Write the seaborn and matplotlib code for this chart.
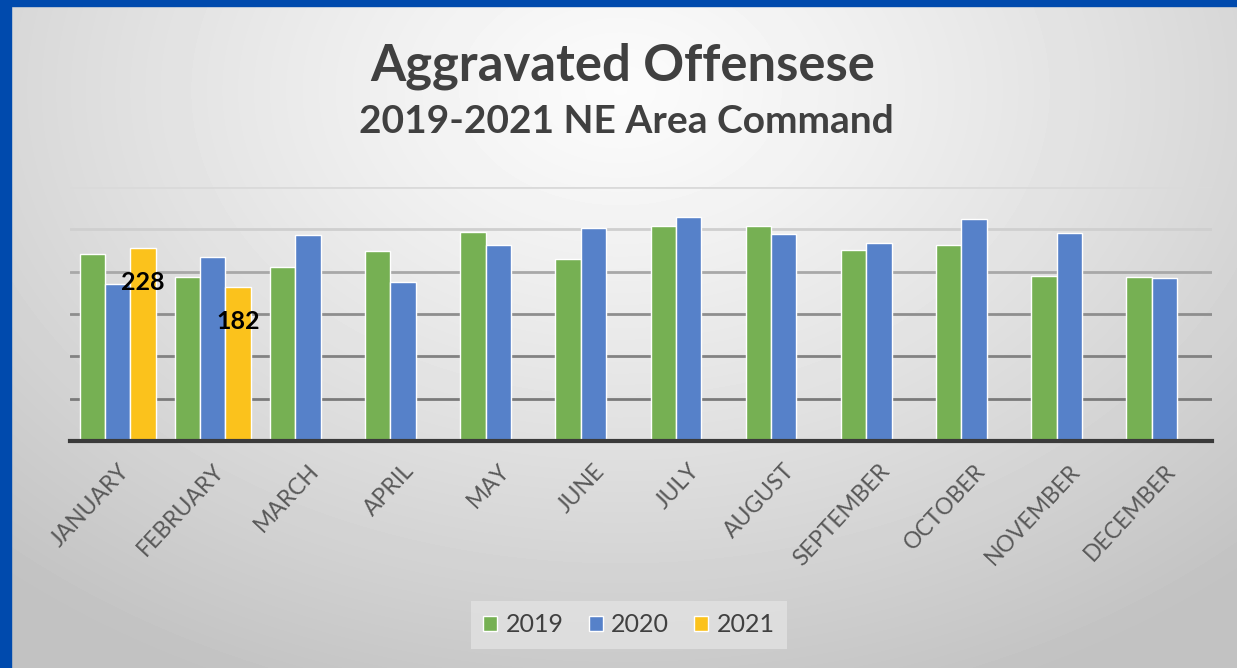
import numpy as np
import pandas as pd
import seaborn as sns
import matplotlib.pyplot as plt
from matplotlib.patches import Rectangle

# values
months = ['JANUARY', 'FEBRUARY', 'MARCH', 'APRIL', 'MAY', 'JUNE', 'JULY',
          'AUGUST', 'SEPTEMBER', 'OCTOBER', 'NOVEMBER', 'DECEMBER']
counts_2019 = [221, 194, 205, 224, 247, 215, 254, 254, 225, 232, 195, 194]
counts_2020 = [185, 217, 243, 188, 231, 251, 265, 244, 234, 262, 246, 193]
counts_2021 = [228, 182]
years = ['2019', '2020', '2021']
colors = ['#76b053', '#5681c9', '#fbc21c']

rows = []
for yr, vals in zip(years, [counts_2019, counts_2020, counts_2021]):
    for m, v in zip(months, vals):
        rows.append({'month': m, 'year': yr, 'count': v})
df = pd.DataFrame(rows)

sns.set_theme(style='white')
plt.rcParams['font.family'] = ['Lato', 'DejaVu Sans']

W, H = 1237, 668
fig = plt.figure(figsize=(W / 100, H / 100), dpi=100)

# gray radial gradient background
bg = fig.add_axes([0, 0, 1, 1], zorder=-10)
yy, xx = np.mgrid[0:H, 0:W]
r = np.sqrt(((xx - 620) / 900) ** 2 + ((yy - 90) / 640) ** 2)
shade = np.clip(0.985 - 0.22 * r ** 1.2, 0.76, 1)
bg.imshow(shade, cmap='gray', vmin=0, vmax=1, aspect='auto', extent=[0, 1, 0, 1])
bg.axis('off')

ax = fig.add_axes([70 / W, 1 - 441 / H, (1212 - 70) / W, (441 - 187) / H])
sns.barplot(data=df, x='month', y='count', hue='year', order=months,
            hue_order=years, palette=colors, width=0.8, saturation=1,
            edgecolor='white', linewidth=1, ax=ax)
ax.set_facecolor('none')
ax.set_ylim(0, 300)
ax.set_yticks(range(50, 301, 50))
ax.yaxis.grid(True)
ax.set_axisbelow(True)
grid_colors = ['#7a7a7a', '#828282', '#8e8e8e', '#a8a8a8', '#cfcfcf', '#dadada']
for gl, c in zip(ax.get_ygridlines(), grid_colors):
    gl.set_color(c)
    gl.set_linewidth(2)
ax.tick_params(axis='y', left=False, labelleft=False)
ax.tick_params(axis='x', length=0, pad=14)
ax.set_xlabel('')
ax.set_ylabel('')
for s in ['left', 'right', 'top']:
    ax.spines[s].set_visible(False)
ax.spines['bottom'].set_color('#3a3a3a')
ax.spines['bottom'].set_linewidth(3)
plt.setp(ax.get_xticklabels(), rotation=47, ha='right', rotation_mode='anchor',
         fontsize=16.5, color='#595959')

# data labels on the 2021 bars
for bar in ax.containers[2]:
    h = bar.get_height()
    if np.isnan(h):
        continue
    ax.annotate(f'{h:.0f}', (bar.get_x() + bar.get_width() / 2, h),
                xytext=(0, -25), textcoords='offset points', ha='center',
                va='center', fontsize=18, fontweight='bold', color='black')

handles, labels = ax.get_legend_handles_labels()
ax.legend_.remove()
fig.legend(handles, labels, loc='center', bbox_to_anchor=(629 / W, 1 - 625 / H),
           ncol=3, frameon=True, facecolor='#e2e2e2', edgecolor='none',
           fancybox=False, fontsize=18, handlelength=0.55, handleheight=0.55,
           columnspacing=1.0, handletextpad=0.35, borderpad=0.5,
           labelcolor='#404040')

fig.text(623 / W, 1 - 80 / H, 'Aggravated Offensese', ha='center', va='baseline',
         fontsize=36.5, fontweight='bold', color='#404040')
fig.text(626 / W, 1 - 133 / H, '2019-2021 NE Area Command', ha='center',
         va='baseline', fontsize=28, fontweight='bold', color='#404040')

# blue slide frame
fig.patches.append(Rectangle((0, 0), 11 / W, 1, transform=fig.transFigure,
                             color='#004aad', zorder=5))
fig.patches.append(Rectangle((0, 1 - 6 / H), 1, 6 / H, transform=fig.transFigure,
                             color='#004aad', zorder=5))

fig.savefig('out.png', dpi=100)
